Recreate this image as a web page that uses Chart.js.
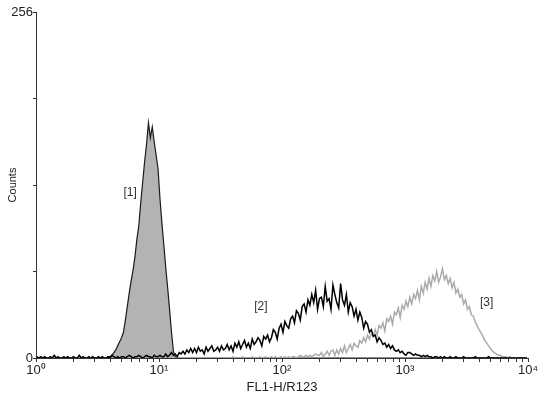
<!DOCTYPE html>
<html>
<head>
<meta charset="utf-8">
<script src="https://cdn.jsdelivr.net/npm/chart.js@4.4.1/dist/chart.umd.min.js"></script>
<style>
  html, body { margin: 0; padding: 0; background: #fff; }
  canvas { display: block; }
</style>
</head>
<body>
<canvas id="histo" width="550" height="401"></canvas>
<script>
// 256 channels over 4 log decades (64 channels per decade)
const xTickLabels = ["10\u2070", "10\u00b9", "10\u00b2", "10\u00b3", "10\u2074"];
const yTickLabels = { 0: "0", 256: "256" };

// [1] unstained control (filled)
const counts1 = [
  0,0,0,0,0,0,0,0,0,0,0,0,0,0,0,0,
  0,0,0,0,0,0,0,0,0,0,0,0,0,0,0,0,
  0,0,0,0,0,1,1,2,4,6,9,12,15,19,28,38,
  48,57,65,75,88,98,115,130,145,158,174,163,171,160,150,140,
  118,100,84,67,52,36,19,5,1,0,0,0,0,0,0,0,
  0,0,0,0,0,0,0,0,0,0,0,0,0,0,0,0,
  0,0,0,0,0,0,0,0,0,0,0,0,0,0,0,0,
  0,0,0,0,0,0,0,0,0,0,0,0,0,0,0,0,
  0,0,0,0,0,0,0,0,0,0,0,0,0,0,0,0,
  0,0,0,0,0,0,0,0,0,0,0,0,0,0,0,0,
  0,0,0,0,0,0,0,0,0,0,0,0,0,0,0,0,
  0,0,0,0,0,0,0,0,0,0,0,0,0,0,0,0,
  0,0,0,0,0,0,0,0,0,0,0,0,0,0,0,0,
  0,0,0,0,0,0,0,0,0,0,0,0,0,0,0,0,
  0,0,0,0,0,0,0,0,0,0,0,0,0,0,0,0,
  0,0,0,0,0,0,0,0,0,0,0,0,0,0,0,0
];

// [2] black histogram
const counts2 = [
  1,0,1,0,1,0,0,1,0,2,0,1,0,0,1,0,
  1,0,0,1,0,0,2,0,1,0,0,1,0,1,0,0,
  1,0,1,0,0,1,0,2,1,0,1,0,1,1,0,1,
  2,1,0,1,1,2,1,0,1,2,1,1,0,2,1,1,
  2,1,1,3,1,2,4,2,3,1,4,3,5,3,6,4,
  7,4,7,4,8,5,6,3,8,5,7,9,5,6,8,5,
  9,6,7,10,6,9,5,11,8,12,7,10,13,8,11,7,
  14,10,12,15,13,9,16,14,17,12,15,21,19,14,22,25,
  19,27,24,22,29,31,26,35,33,28,38,40,34,43,39,47,
  41,50,36,44,45,38,53,42,44,36,54,47,41,37,55,43,
  39,47,34,41,38,31,36,28,34,30,22,27,25,19,21,16,
  17,12,15,13,10,11,8,10,7,9,6,5,6,4,5,3,
  2,4,4,3,2,3,2,2,1,2,1,2,1,1,0,1,
  1,0,1,0,1,0,0,1,0,0,1,0,0,0,1,0,
  0,0,0,0,1,0,0,0,0,0,0,1,0,0,0,0,
  0,0,0,0,0,0,0,0,0,0,0,0,0,0,0,0
];

// [3] light grey histogram
const counts3 = [
  0,0,0,0,0,0,0,0,0,0,0,0,0,0,0,0,
  0,0,0,0,0,0,0,0,0,0,0,0,0,0,0,0,
  0,0,0,0,0,0,0,0,0,0,0,0,0,0,0,0,
  0,0,0,0,0,0,0,0,0,0,0,0,0,0,0,0,
  0,0,0,0,0,0,0,0,0,0,0,0,0,0,0,0,
  0,0,0,0,0,0,0,0,0,0,0,0,0,0,0,0,
  0,0,0,0,0,0,1,0,0,0,0,1,0,0,0,0,
  1,0,0,0,1,0,0,1,0,0,1,0,1,0,0,1,
  0,1,0,1,0,1,1,0,1,2,1,1,2,1,2,1,
  2,3,2,2,4,1,3,5,2,5,6,2,6,3,7,4,
  9,4,7,10,6,11,9,8,13,11,15,12,17,14,18,16,
  21,17,24,22,26,20,29,27,31,25,34,32,37,30,39,36,
  42,38,45,40,47,44,50,43,53,48,56,51,59,53,61,57,
  64,56,60,66,58,61,55,59,52,56,48,51,45,47,40,43,
  36,38,32,31,27,24,21,19,16,13,11,9,7,5,4,3,
  2,2,1,1,1,0,1,0,0,0,0,0,0,0,0,0
];

const peakNames = ["[1]", "[2]", "[3]"];
const peakSpots = [[49, 122], [117, 38], [234.5, 41]];

const FONT = "'Liberation Sans', Arial, sans-serif";

function toPoints(arr) {
  return arr.map((c, i) => ({ x: i + 0.5, y: c }));
}

const peakLabels = {
  id: "peakLabels",
  afterDatasetsDraw(chart) {
    const { ctx, scales } = chart;
    ctx.save();
    ctx.font = "12px " + FONT;
    ctx.fillStyle = "#333";
    ctx.textAlign = "center";
    ctx.textBaseline = "middle";
    peakNames.forEach((name, i) => {
      ctx.fillText(name, scales.x.getPixelForValue(peakSpots[i][0]), scales.y.getPixelForValue(peakSpots[i][1]));
    });
    ctx.restore();
  }
};

new Chart(document.getElementById("histo"), {
  type: "line",
  data: {
    datasets: [
      { data: toPoints(counts2), borderColor: "#000", borderWidth: 1.5, pointRadius: 0, tension: 0, fill: false },
      { data: toPoints(counts3), borderColor: "#ababab", borderWidth: 1.5, pointRadius: 0, tension: 0, fill: false },
      { data: toPoints(counts1), borderColor: "#1a1a1a", backgroundColor: "#b3b3b3", borderWidth: 1.2, pointRadius: 0, tension: 0, fill: "origin" }
    ]
  },
  options: {
    responsive: false,
    animation: false,
    layout: { padding: { top: 12, right: 22, left: 0, bottom: 0 } },
    plugins: { legend: { display: false }, tooltip: { enabled: false } },
    scales: {
      x: {
        type: "linear",
        min: 0,
        max: 256,
        afterFit: s => { s.height = 43; },
        afterBuildTicks: s => {
          const t = [];
          for (let d = 0; d < 4; d++) {
            t.push({ value: d * 64 });
            for (let k = 2; k < 10; k++) t.push({ value: 64 * (d + Math.log10(k)) });
          }
          t.push({ value: 256 });
          s.ticks = t;
        },
        grid: { drawOnChartArea: false, drawTicks: true, tickLength: 4, color: "#333" },
        border: { color: "#333", width: 1 },
        ticks: {
          autoSkip: false,
          maxRotation: 0,
          padding: 1,
          color: "#222",
          font: { family: FONT, size: 13 },
          callback: v => (v % 64 === 0 ? xTickLabels[v / 64] : "")
        },
        title: { display: true, text: "FL1-H/R123", color: "#222", font: { family: FONT, size: 13 }, padding: { top: 0, bottom: 6 } }
      },
      y: {
        min: 0,
        max: 256,
        afterFit: s => { s.width = 36; },
        grid: { drawOnChartArea: false, drawTicks: true, tickLength: 3, color: "#333" },
        border: { color: "#333", width: 1 },
        ticks: {
          stepSize: 64,
          padding: 0,
          color: "#222",
          font: { family: FONT, size: 13 },
          callback: v => yTickLabels[v] || ""
        },
        title: { display: true, text: "Counts", color: "#222", font: { family: FONT, size: 11 }, padding: { top: 6, bottom: 0 } }
      }
    }
  },
  plugins: [peakLabels]
});
</script>
</body>
</html>
